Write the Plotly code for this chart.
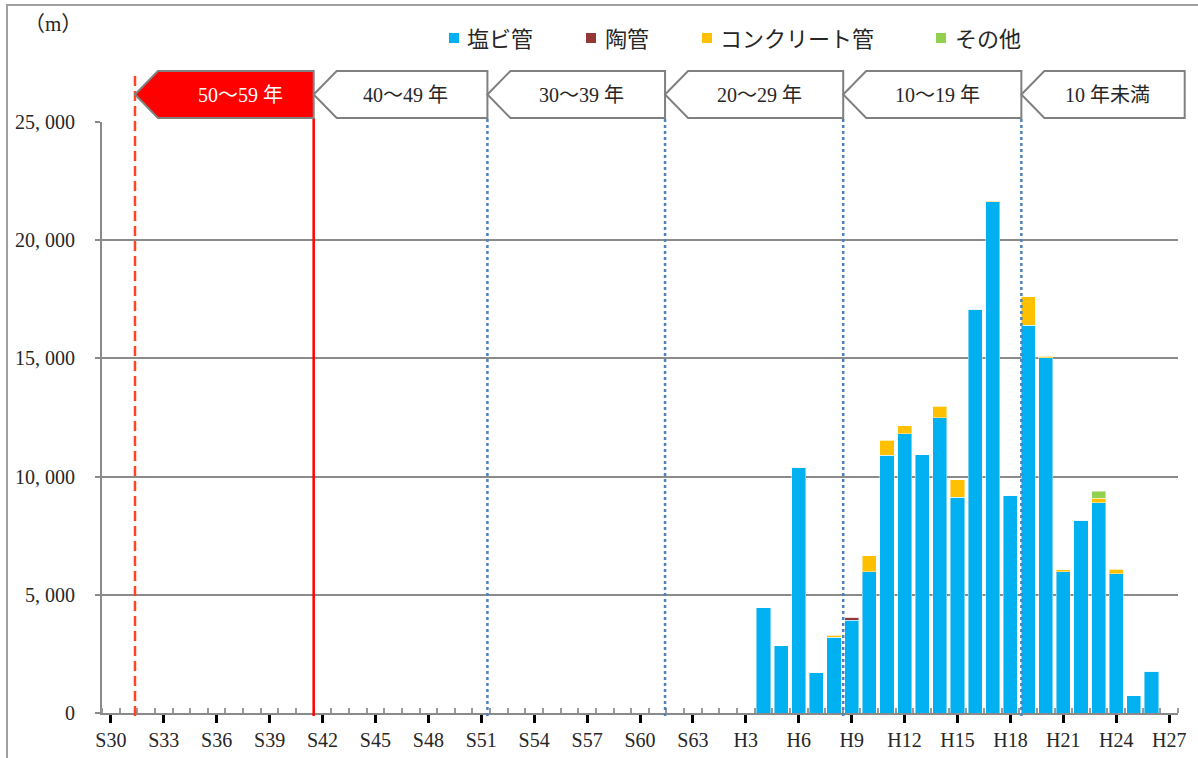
import plotly.graph_objects as go

# ---- data -------------------------------------------------------------
years = [f"S{n}" for n in range(30, 64)] + [f"H{n}" for n in range(1, 28)]
tick_years = years[::3]

data_years = ["H4", "H5", "H6", "H7", "H8", "H9", "H10", "H11", "H12", "H13",
              "H14", "H15", "H16", "H17", "H18", "H19", "H20", "H21", "H22",
              "H23", "H24", "H25", "H26"]
pvc = [4450, 2850, 10400, 1700, 3200, 3930, 5970, 10910, 11810, 10920,
       12490, 9120, 17080, 21620, 9190, 16400, 15020, 5970, 8150,
       8890, 5890, 720, 1760]
clay = [0, 0, 0, 0, 0, 130, 0, 0, 0, 0,
        0, 0, 0, 0, 0, 0, 0, 0, 0,
        0, 0, 0, 0]
concrete = [0, 0, 0, 0, 80, 0, 690, 630, 350, 0,
            480, 745, 0, 30, 0, 1210, 70, 100, 0,
            200, 190, 0, 0]
other = [0, 0, 0, 0, 0, 0, 0, 0, 0, 0,
         0, 0, 0, 0, 0, 0, 0, 0, 0,
         300, 0, 0, 0]

series_names = ["塩ビ管", "陶管", "コンクリート管", "その他"]
series_values = [pvc, clay, concrete, other]

era_labels = ["50～59 年", "40～49 年", "30～39 年", "20～29 年", "10～19 年", "10 年未満"]
y_ticks = [0, 5000, 10000, 15000, 20000, 25000]

# ---- layout constants -------------------------------------------------
W, H = 1198, 758
PL, PR, PT, PB = 102, 20, 122, 45
PW, PH = W - PL - PR, H - PT - PB

colors = ["#00B0F0", "#953735", "#FFC000", "#92D050"]
font_family = "Liberation Serif, Noto Sans CJK JP, serif"
text_color = "#262626"
grid_color = "#8a8a8a"

# era boundaries on the year axis (index units) and right end of the last band
era_bounds = [1.37, 11.5, 21.35, 31.42, 41.52, 51.62]
era_end = 60.88
era_text_frac = [0.59, 0.53, 0.53, 0.53, 0.53, 0.53]


def px_x(px):
    return (px - PL) / PW


def px_y(py):
    return (H - PB - py) / PH


def idx_x(i):
    return (i + 0.5) / len(years)


x_pos = [years.index(y) for y in data_years]

fig = go.Figure()
for name, vals, col in zip(series_names, series_values, colors):
    fig.add_trace(go.Bar(
        x=x_pos, y=vals, name=name,
        marker=dict(color=col, line=dict(color="rgba(255,255,255,0.45)", width=1)),
        showlegend=False,
    ))

shapes = []
annotations = []

# chart frame (left and top edges)
shapes.append(dict(type="path", xref="paper", yref="paper",
                   path=f"M {px_x(7)},{px_y(770)} L {px_x(7)},{px_y(5)} L {px_x(1215)},{px_y(5)}",
                   line=dict(color="#a0a0a0", width=2), layer="above"))

# era boundary lines
y_low = px_y(716)
shapes.append(dict(type="line", xref="x", yref="paper", x0=era_bounds[0], x1=era_bounds[0],
                   y0=y_low, y1=px_y(74), line=dict(color="#FF4422", width=2.5, dash="10px,5px"),
                   layer="above"))
shapes.append(dict(type="line", xref="x", yref="paper", x0=era_bounds[1], x1=era_bounds[1],
                   y0=y_low, y1=px_y(118), line=dict(color="#FF0000", width=2.5), layer="above"))
for b in era_bounds[2:]:
    shapes.append(dict(type="line", xref="x", yref="paper", x0=b, x1=b,
                       y0=y_low, y1=px_y(118), line=dict(color="#4F81BD", width=2.5, dash="dot"),
                       layer="above"))

# era header bands (left-pointing pentagons)
y_top, y_bot, y_mid = px_y(71), px_y(118), px_y(94.5)
notch = 23 / PW
for k, label in enumerate(era_labels):
    left = era_bounds[k]
    right = era_bounds[k + 1] if k + 1 < len(era_bounds) else era_end
    xt, xr = idx_x(left), idx_x(right)
    xs = xt + notch
    first = k == 0
    shapes.append(dict(type="path", xref="paper", yref="paper",
                       path=f"M {xt},{y_mid} L {xs},{y_top} L {xr},{y_top} L {xr},{y_bot} L {xs},{y_bot} Z",
                       fillcolor="#FF0000" if first else "#FFFFFF",
                       line=dict(color="#808080", width=2), layer="above"))
    annotations.append(dict(x=idx_x(left + era_text_frac[k] * (right - left)), y=y_mid,
                            xref="paper", yref="paper", text=label, showarrow=False,
                            xanchor="center", yanchor="middle",
                            font=dict(family=font_family, size=20,
                                      color="#FFFFFF" if first else text_color)))

# legend (top row)
legend_sq_x = [449, 586, 702, 936]
legend_txt_x = [465, 603, 718, 953]
sq = 10
for name, col, sx, tx in zip(series_names, colors, legend_sq_x, legend_txt_x):
    shapes.append(dict(type="rect", xref="paper", yref="paper",
                       x0=px_x(sx), x1=px_x(sx + sq), y0=px_y(43), y1=px_y(33),
                       fillcolor=col, line=dict(width=0), layer="above"))
    annotations.append(dict(x=px_x(tx), y=px_y(40), xref="paper", yref="paper",
                            text=name, showarrow=False, xanchor="left", yanchor="middle",
                            font=dict(family=font_family, size=22, color=text_color)))

# unit label
annotations.append(dict(x=px_x(22), y=px_y(24), xref="paper", yref="paper", text="（m）",
                        showarrow=False, xanchor="left", yanchor="middle",
                        font=dict(family=font_family, size=21, color=text_color)))

fig.update_layout(
    width=W, height=H,
    margin=dict(l=PL, r=PR, t=PT, b=PB, pad=0, autoexpand=False),
    barmode="stack", bargap=0.2,
    plot_bgcolor="#FFFFFF", paper_bgcolor="#FFFFFF",
    font=dict(family=font_family, size=20, color=text_color),
    shapes=shapes, annotations=annotations,
    showlegend=False,
)
fig.update_xaxes(
    automargin=False,
    range=[-0.5, len(years) - 0.5], showgrid=False, zeroline=False,
    showline=True, linecolor=grid_color, linewidth=2,
    tickmode="array", tickvals=[years.index(t) for t in tick_years], ticktext=tick_years,
    ticks="outside", ticklen=8, tickwidth=2.5, tickcolor="#000000",
    tickfont=dict(family=font_family, size=20, color=text_color),
    minor=dict(tickmode="linear", tick0=-0.5, dtick=1, ticks="inside", ticklen=5,
               tickwidth=1.5, tickcolor="#999999", showgrid=False),
)
fig.update_yaxes(
    automargin=False,
    range=[0, 25000], showgrid=True, gridcolor=grid_color, gridwidth=1.8, zeroline=False,
    showline=True, linecolor=grid_color, linewidth=2,
    tickmode="array", tickvals=y_ticks,
    ticktext=[f"{v:,}".replace(",", ", ") for v in y_ticks],
    ticks="outside", ticklen=5, tickwidth=1.8, tickcolor=grid_color,
    ticklabelstandoff=16,
    tickfont=dict(family=font_family, size=20, color=text_color),
)

fig.write_html("out.html")
